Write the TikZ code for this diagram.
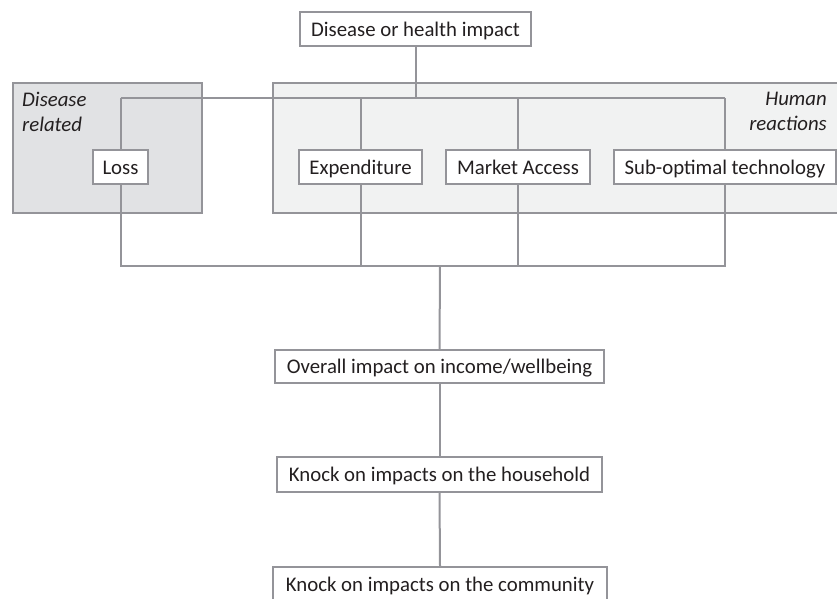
\documentclass[tikz,border=0pt]{standalone}
\usepackage{fontspec}
\setmainfont{Carlito}
\definecolor{linegray}{RGB}{148,148,153}
\definecolor{darkfill}{RGB}{225,226,228}
\definecolor{lightfill}{RGB}{241,242,242}
\definecolor{txt}{RGB}{35,31,32}

\begin{document}
\begin{tikzpicture}[x=1pt,y=-1pt,
    box/.style={draw=linegray, line width=1.5pt, fill=white, text=txt, inner sep=0pt,
        minimum height=34pt, text height=19pt, text depth=5pt,
        font=\fontsize{20.8}{24}\selectfont},
    region/.style={draw=linegray, line width=1.5pt},
    link/.style={draw=linegray, line width=2pt},
    tag/.style={text=txt, inner sep=0pt, font=\fontsize{20.8}{25}\selectfont\itshape}]
        \useasboundingbox (0,0) rectangle (837,598);

        % grouping boxes
        \filldraw[region, fill=darkfill] (13,83) rectangle (202,213);
        \filldraw[region, fill=lightfill] (273,83) rectangle (840,213);
        \node[tag, anchor=north west, align=left] (dislabel) at (22,92) {Disease\\related};
        \node[tag, anchor=north east, align=right] (humlabel) at (827,92) {Human\\reactions};

        % boxes
        \node[box, minimum width=231pt] (impact) at (415.5,29) {Disease or health impact};
        \node[box, minimum width=55pt] (loss) at (120.5,167) {Loss};
        \node[box, minimum width=123pt] (expend) at (360.5,167) {Expenditure};
        \node[box, minimum width=144pt] (market) at (518,167) {Market Access};
        \node[box, minimum width=222pt] (subopt) at (725,167) {Sub-optimal technology};
        \node[box, minimum width=329pt, minimum height=33pt] (overall) at (439.5,366.5) {Overall impact on income/wellbeing};
        \node[box, minimum width=325pt, minimum height=35pt] (household) at (439.5,474.5) {Knock on impacts on the household};
        \node[box, minimum width=334pt] (community) at (440,584) {Knock on impacts on the community};

        \coordinate (split) at (415.5,98);
        \coordinate (join) at (440,266);

        % links
        \draw[link] (impact.south) -- (split);
        \draw[link] (loss.north |- split) -- (subopt.north |- split);
        \draw[link] (loss.north |- split) -- (loss.north);
        \draw[link] (expend.north |- split) -- (expend.north);
        \draw[link] (market.north |- split) -- (market.north);
        \draw[link] (subopt.north |- split) -- (subopt.north);

        \draw[link] (loss.south) -- (loss.south |- join) -- (subopt.south |- join) -- (subopt.south);
        \draw[link] (expend.south) -- (expend.south |- join);
        \draw[link] (market.south) -- (market.south |- join);
        \draw[link] (join) -- (overall.north);
        \draw[link] (overall.south) -- (household.north);
        \draw[link] (household.south) -- (community.north);
    \end{tikzpicture}
\end{document}
